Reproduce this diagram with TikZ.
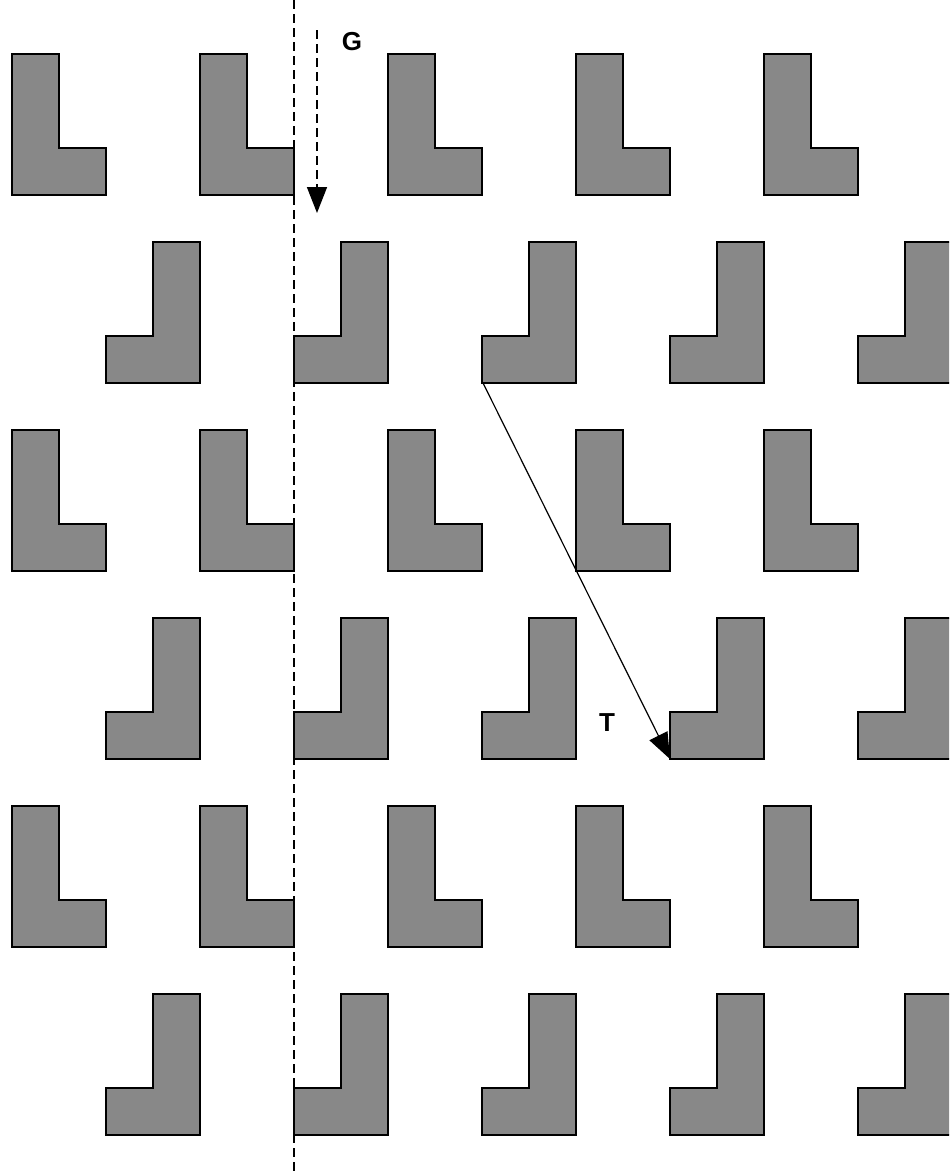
\documentclass[tikz,border=0pt]{standalone}
\usepackage{fontspec}
\setmainfont{Liberation Sans}
\usetikzlibrary{arrows.meta}
\definecolor{tilegray}{RGB}{136,136,136}

\tikzset{
  tile/.style={fill=tilegray, draw=black, line width=1pt},
  mirrorline/.style={line width=0.8pt, dash pattern=on 4.5pt off 2.5pt},
  lbl/.style={font=\bfseries\fontsize{13}{13}\selectfont, inner sep=0pt}
}

\begin{document}
\begin{tikzpicture}[x=0.5pt, y=-0.5pt]

\useasboundingbox (0,0) rectangle (949,1174);
\clip (0,0) rectangle (949,1174);

% rows of plain L tiles
\foreach \r in {0,1,2} {
  \foreach \i in {0,...,4} {
    \draw[tile] (12+188*\i, 54+376*\r) -- ++(47,0) -- ++(0,94)
      -- ++(47,0) -- ++(0,47) -- ++(-94,0) -- cycle;
  }
}

% rows of mirrored L tiles
\foreach \r in {0,1,2} {
  \foreach \i in {0,...,4} {
    \draw[tile] (153+188*\i, 242+376*\r) -- ++(47,0) -- ++(0,141)
      -- ++(-94,0) -- ++(0,-47) -- ++(47,0) -- cycle;
  }
}

% glide mirror line
\coordinate (mtop) at (294,0);
\coordinate (mbot) at (294,1174);
\draw[mirrorline] (mtop) -- (mbot);

% glide G
\coordinate (gstart) at (317,30);
\coordinate (gend) at (317,213);
\draw[mirrorline, -{Triangle[length=13pt, width=10pt]}] (gstart) -- (gend);
\node[lbl] (glabel) at (352,42) {G};

% translation T
\coordinate (tstart) at (483,383);
\coordinate (tend) at (670,759);
\draw[line width=0.6pt, -{Triangle[length=13pt, width=10pt]}] (tstart) -- (tend);
\node[lbl] (tlabel) at (607,723) {T};

\end{tikzpicture}
\end{document}
